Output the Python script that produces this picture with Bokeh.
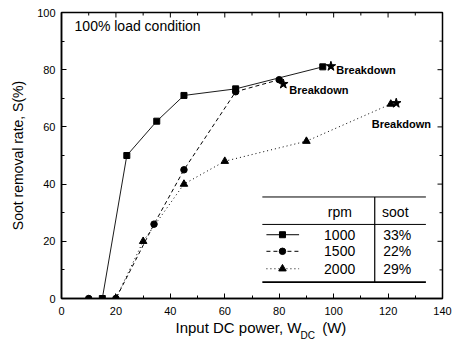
from bokeh.plotting import figure
from bokeh.models import Range1d, Label, SingleIntervalTicker
from bokeh.layouts import column
from bokeh.embed import file_html
from bokeh.resources import INLINE

# ---- data ----
power_1000 = [15, 24, 35, 45, 64, 96]
soot_1000 = [0, 50, 62, 71, 73.3, 81]
power_1500 = [10, 20, 34, 45, 64, 80]
soot_1500 = [0, 0, 26, 45, 72.3, 76.5]
power_2000 = [20, 30, 45, 60, 90, 121]
soot_2000 = [0, 20, 40, 48, 55, 68]
breakdown_x = [99, 81.5, 123]
breakdown_y = [81.2, 75, 68.3]
breakdown_label = ["Breakdown", "Breakdown", "Breakdown"]
rpm_values = ["1000", "1500", "2000"]
soot_values = ["33%", "22%", "29%"]
x_major = [0, 20, 40, 60, 80, 100, 120, 140]
x_minor = [10, 30, 50, 70, 90, 110, 130]
y_major = [0, 20, 40, 60, 80, 100]
y_minor = [10, 30, 50, 70, 90]
title_text = "100% load condition"
x_label = "Input DC power, W"
x_label_sub = "DC"
x_label_unit = "(W)"
y_label = "Soot removal rate, S(%)"

FONT = "Liberation Sans"
INK = "black"
W = 458

p = figure(width=W, height=318, x_range=Range1d(0, 140), y_range=Range1d(0, 100),
           output_backend="svg", toolbar_location=None,
           min_border_left=61, min_border_right=16, min_border_top=12, min_border_bottom=20)
p.xgrid.visible = False
p.ygrid.visible = False
p.outline_line_color = "black"
p.outline_line_width = 1.5
p.background_fill_color = "white"
p.border_fill_color = "white"

for ax in (p.xaxis[0], p.yaxis[0]):
    ax.ticker = SingleIntervalTicker(interval=20, num_minor_ticks=2)
    ax.axis_line_width = 1.5
    ax.axis_line_color = "black"
    ax.major_tick_in = 5
    ax.major_tick_out = 0
    ax.minor_tick_in = 3
    ax.minor_tick_out = 0
    ax.major_tick_line_color = "black"
    ax.minor_tick_line_color = "black"
    ax.major_label_text_font = FONT
    ax.major_label_text_font_size = "11px"
    ax.major_label_text_color = INK
p.xaxis.major_label_standoff = 8
p.yaxis.major_label_standoff = 6
p.yaxis.axis_label = y_label
p.yaxis.axis_label_text_font = FONT
p.yaxis.axis_label_text_font_size = "14px"
p.yaxis.axis_label_text_font_style = "normal"
p.yaxis.axis_label_text_color = INK
p.yaxis.axis_label_standoff = 8

# mirrored inward ticks on top and right edges
tx_major = 5 / 2.857
tx_minor = 3 / 2.857
ty_major = 5 / 2.725
ty_minor = 3 / 2.725
p.segment(x0=x_major, y0=[100] * len(x_major), x1=x_major, y1=[100 - tx_major] * len(x_major),
          line_color="black", line_width=1)
p.segment(x0=x_minor, y0=[100] * len(x_minor), x1=x_minor, y1=[100 - tx_minor] * len(x_minor),
          line_color="black", line_width=1)
p.segment(x0=[140] * len(y_major), y0=y_major, x1=[140 - ty_major] * len(y_major), y1=y_major,
          line_color="black", line_width=1)
p.segment(x0=[140] * len(y_minor), y0=y_minor, x1=[140 - ty_minor] * len(y_minor), y1=y_minor,
          line_color="black", line_width=1)

# ---- series ----
p.line(power_1000, soot_1000, line_color="black", line_width=0.9)
p.scatter(power_1000, soot_1000, marker="square", size=6, color="black")
p.line(power_1500, soot_1500, line_color="black", line_width=1, line_dash="4 3")
p.scatter(power_1500, soot_1500, marker="circle", size=6.5, color="black")
p.line(power_2000, soot_2000, line_color="black", line_width=1, line_dash="1 3")
p.scatter(power_2000, soot_2000, marker="triangle", size=7.5, color="black")
p.scatter(breakdown_x, breakdown_y, marker="star", size=10, color="black")

label_pos = [(101.0, 79.8), (83.7, 73.0), (114.0, 60.9)]
for (lx, ly), t in zip(label_pos, breakdown_label):
    p.add_layout(Label(x=lx, y=ly, text=t, text_font=FONT, text_font_size="11px", text_color=INK,
                       text_font_style="bold", text_baseline="middle", text_align="left"))

p.add_layout(Label(x=4.8, y=95.2, text=title_text, text_font=FONT, text_font_size="14px",
                   text_color=INK, text_baseline="middle", text_align="left"))

# ---- table legend ----
tbl_left, tbl_right = 73.8, 133.9
tbl_top, tbl_head, tbl_bottom = 35.5, 25.9, 5.7
tbl_vline = 115.1
row_y = [22.3, 16.5, 10.4]
p.segment(x0=[tbl_left, tbl_left, tbl_left], y0=[tbl_top, tbl_head, tbl_bottom],
          x1=[tbl_right, tbl_right, tbl_right], y1=[tbl_top, tbl_head, tbl_bottom],
          line_color="black", line_width=[1, 1, 1.8])
p.segment(x0=[tbl_vline], y0=[tbl_top], x1=[tbl_vline], y1=[tbl_bottom],
          line_color="black", line_width=1.2)
p.add_layout(Label(x=102.3, y=30.2, text="rpm", text_font=FONT, text_font_size="14px",
                   text_color=INK, text_baseline="middle", text_align="center"))
p.add_layout(Label(x=117.8, y=30.2, text="soot", text_font=FONT, text_font_size="14px",
                   text_color=INK, text_baseline="middle", text_align="left"))
dashes = ["solid", "4 3", "1 3"]
markers = ["square", "circle", "triangle"]
msizes = [6, 6.5, 7.5]
for i in range(3):
    ry = row_y[i]
    p.line([75.3, 87.3], [ry, ry], line_color="black", line_width=1, line_dash=dashes[i])
    p.scatter([81.2], [ry], marker=markers[i], size=msizes[i], color="black")
    p.add_layout(Label(x=102.2, y=ry, text=rpm_values[i], text_font=FONT, text_font_size="14px",
                       text_color=INK, text_baseline="middle", text_align="center"))
    p.add_layout(Label(x=118.2, y=ry, text=soot_values[i], text_font=FONT, text_font_size="14px",
                       text_color=INK, text_baseline="middle", text_align="left"))

# ---- x axis label with subscript (separate strip below the plot; frame aligns with p) ----
lab = figure(width=W, height=22, x_range=Range1d(61, 442), y_range=Range1d(22, 0),
             output_backend="svg", toolbar_location=None, x_axis_type=None, y_axis_type=None,
             min_border=0, min_border_left=0, min_border_right=0, min_border_top=0, min_border_bottom=0)
lab.outline_line_color = None
lab.xgrid.visible = False
lab.ygrid.visible = False
lab.add_layout(Label(x=175, y=9, text=x_label, text_font=FONT, text_font_size="15px",
                     text_color=INK, text_baseline="middle", text_align="left"))
lab.add_layout(Label(x=300, y=16.5, text=x_label_sub, text_font=FONT, text_font_size="10px",
                     text_color=INK, text_baseline="middle", text_align="left"))
lab.add_layout(Label(x=321.7, y=9, text=x_label_unit, text_font=FONT, text_font_size="15px",
                     text_color=INK, text_baseline="middle", text_align="left"))

layout = column(p, lab, spacing=0)
open("out.html", "w").write(file_html(layout, INLINE))
